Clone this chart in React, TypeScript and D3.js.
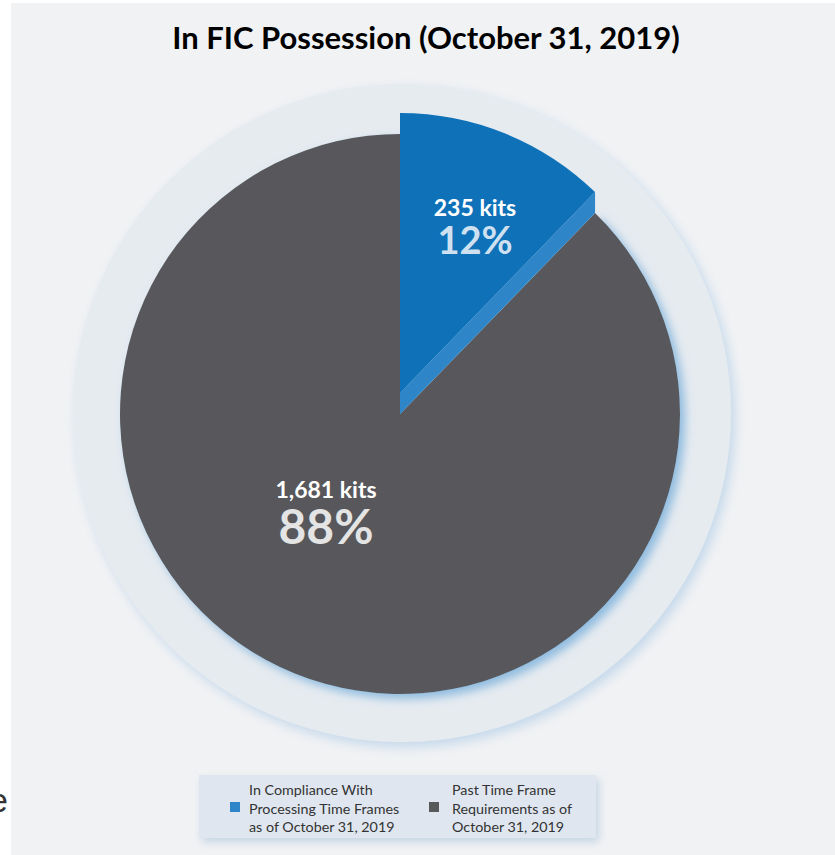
import React from "react";
import * as d3 from "d3";

const categories = [
  "In Compliance With Processing Time Frames as of October 31, 2019",
  "Past Time Frame Requirements as of October 31, 2019",
];
const values = [235, 1681];
const countLabels = ["235 kits", "1,681 kits"];
const percentLabels = ["12%", "88%"];
const colors = ["#0f72b9", "#58595b"];
const legendColors = ["#2e86c8", "#58595b"];
const legendLines = [
  ["In Compliance With", "Processing Time Frames", "as of October 31, 2019"],
  ["Past Time Frame", "Requirements as of", "October 31, 2019"],
];
const title = "In FIC Possession (October 31, 2019)";

export default function App() {
  const W = 835, H = 855;
  const cx = 400, cy = 414, r = 280, lift = 21;
  const font = "Lato, 'Open Sans', sans-serif";

  const pie = d3.pie<number>().sort(null).startAngle(0).endAngle(2 * Math.PI);
  const arcs = pie(values);
  const arcGen = d3.arc<d3.PieArcDatum<number>>().innerRadius(0).outerRadius(r);

  const blue = arcs[0];
  const a = blue.endAngle;
  const ex = r * Math.sin(a), ey = -r * Math.cos(a);
  const side = [
    [0, -lift],
    [ex, ey - lift],
    [ex, ey],
    [0, 0],
  ];
  const sidePath = d3.line()(side as [number, number][]) + "Z";

  const labelPos = [
    { x: 475, y: 216, py: 254, countSize: 23, pctSize: 38, pctColor: "#cfe1f0" },
    { x: 326, y: 498, py: 544, countSize: 23, pctSize: 48, pctColor: "#e4e4e4" },
  ];

  return (
    <svg width={W} height={H} style={{ position: "absolute", left: 0, top: 0 }}>
      <defs>
        <filter id="glow" x="-20%" y="-20%" width="140%" height="140%">
          <feDropShadow dx="5" dy="5" stdDeviation="5" floodColor="#7fb2dc" floodOpacity="0.85" />
        </filter>
        <filter id="haloGlow" x="-20%" y="-20%" width="140%" height="140%">
          <feDropShadow dx="4" dy="5" stdDeviation="6" floodColor="#b9d2e8" floodOpacity="0.8" />
        </filter>
        <filter id="boxShadow" x="-20%" y="-40%" width="140%" height="180%">
          <feDropShadow dx="3" dy="4" stdDeviation="4" floodColor="#b8cde0" floodOpacity="0.8" />
        </filter>
      </defs>
      <rect x={0} y={0} width={W} height={H} fill="#ffffff" />
      <rect x={11} y={3} width={W - 11} height={H - 3} fill="#f1f2f4" />
      <text x={8} y={812} textAnchor="end" fontFamily="'Liberation Sans', Arial, sans-serif" fontSize={34} fill="#333">e</text>

      <text x={426} y={49} textAnchor="middle" fontFamily={font} fontWeight={700} fontSize={31} fill="#000">
        {title}
      </text>

      <circle cx={402} cy={413} r={329} fill="#e6ebf0" filter="url(#haloGlow)" />

      <g transform={`translate(${cx},${cy})`}>
        <path d={arcGen(arcs[1]) as string} fill={colors[1]} filter="url(#glow)" />
        <path d={sidePath} fill="#2e86c8" />
        <path d={arcGen(blue) as string} fill={colors[0]} transform={`translate(0,${-lift})`} />
      </g>

      {values.map((v, i) => (
        <g key={i}>
          <text x={labelPos[i].x} y={labelPos[i].y} textAnchor="middle" fontFamily={font} fontWeight={700}
            fontSize={labelPos[i].countSize} fill="#ffffff">{countLabels[i]}</text>
          <text x={labelPos[i].x} y={labelPos[i].py} textAnchor="middle" fontFamily={font} fontWeight={700}
            fontSize={labelPos[i].pctSize} fill={labelPos[i].pctColor}>{percentLabels[i]}</text>
        </g>
      ))}

      <rect x={199} y={775} width={397} height={63} fill="#dfe6ef" filter="url(#boxShadow)" />
      {categories.map((c, i) => {
        const sx = i === 0 ? 230 : 429;
        const tx = i === 0 ? 249 : 452;
        return (
          <g key={c}>
            <rect x={sx} y={802} width={10} height={10} fill={legendColors[i]} />
            {legendLines[i].map((ln, j) => (
              <text key={j} x={tx} y={795 + j * 18.5} fontFamily={font} fontSize={14.3} fill="#333">{ln}</text>
            ))}
          </g>
        );
      })}
    </svg>
  );
}
